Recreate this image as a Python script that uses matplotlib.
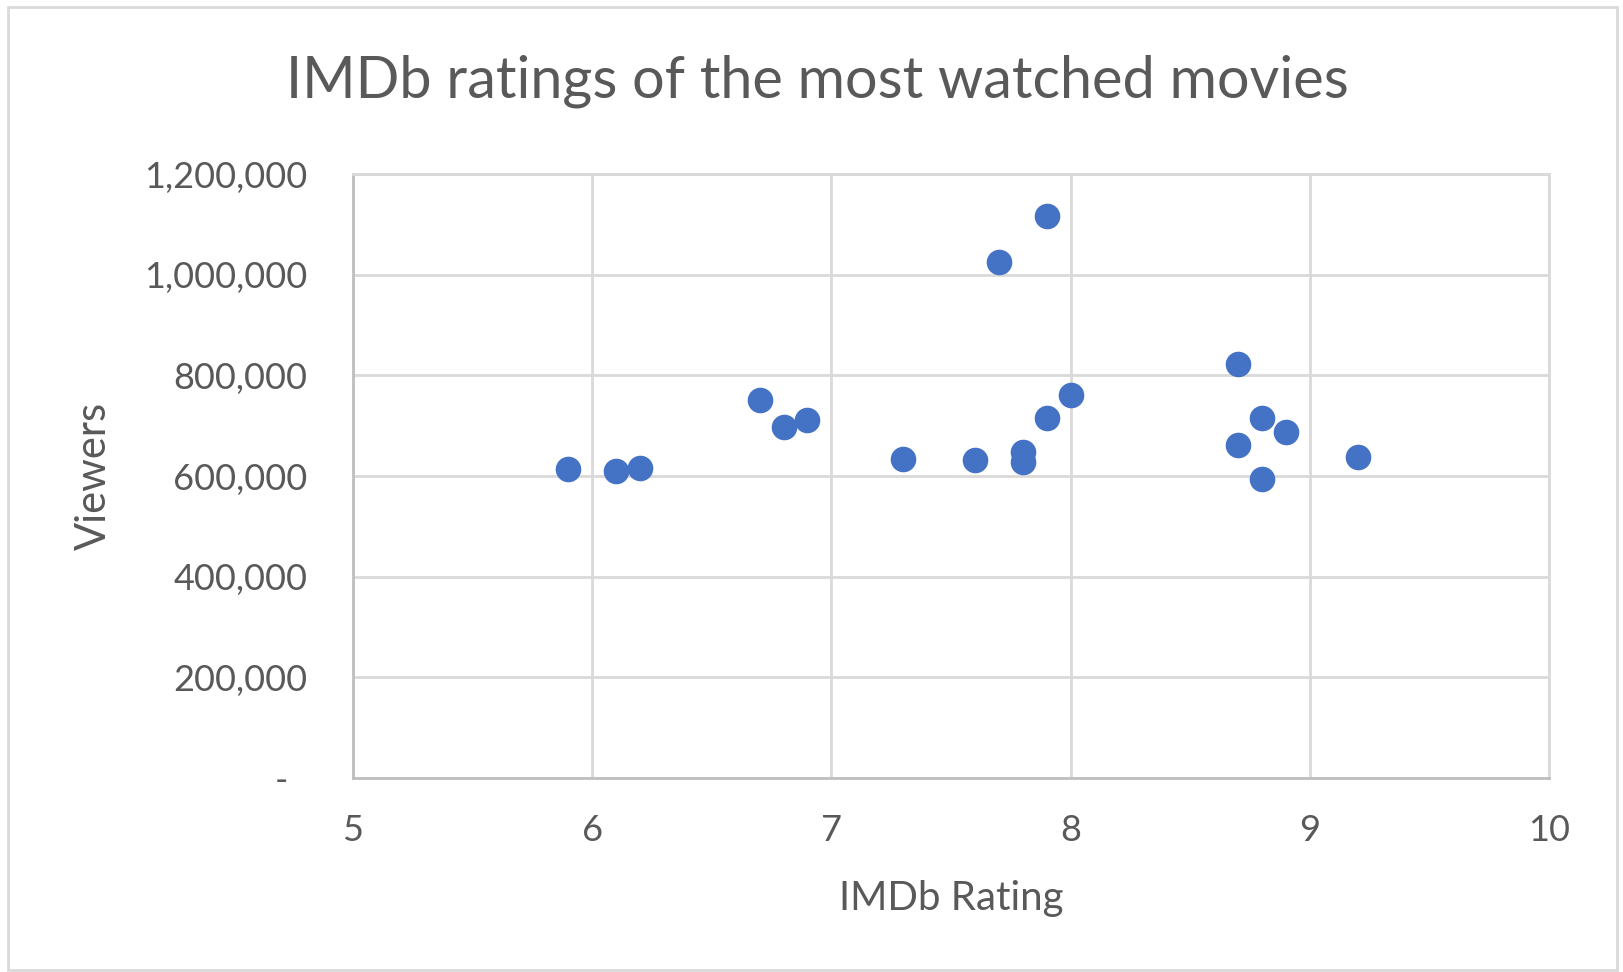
import matplotlib.pyplot as plt
from matplotlib.ticker import FuncFormatter
from matplotlib.patches import Rectangle

# IMDb rating vs viewers
ratings = [5.9, 6.1, 6.2, 6.7, 6.8, 6.9, 7.3, 7.6, 7.7, 7.8, 7.8, 7.9, 7.9, 8.0,
           8.7, 8.7, 8.8, 8.8, 8.9, 9.2]
viewers = [613000, 609000, 615000, 751000, 698000, 712000, 634000, 632000, 1025000,
           648000, 628000, 1116000, 716000, 760000, 823000, 661000, 716000, 595000,
           688000, 638000]

x_ticks = [5, 6, 7, 8, 9, 10]
y_ticks = [0, 200000, 400000, 600000, 800000, 1000000, 1200000]

text_color = "#595959"
grid_color = "#d9d9d9"

plt.rcParams["font.family"] = ["Lato", "DejaVu Sans"]

fig = plt.figure(figsize=(16.23, 9.72), dpi=100)
ax = fig.add_axes([353 / 1623, 1 - 778 / 972, (1549 - 353) / 1623, (778 - 174) / 972])

# outer chart border
fig.patches.append(Rectangle((8 / 1623, 2 / 972), 1 - 14 / 1623, 1 - 9 / 972,
                             transform=fig.transFigure, fill=False,
                             edgecolor="#d9d9d9", linewidth=2))

ax.scatter(ratings, viewers, s=340, color="#4472C4", zorder=3, linewidths=0)

ax.set_xlim(5, 10)
ax.set_ylim(0, 1200000)
ax.set_xticks(x_ticks)
ax.set_yticks(y_ticks)
# accounting style: zero shown as a dash
ax.yaxis.set_major_formatter(FuncFormatter(lambda v, p: "-  " if v == 0 else f"{int(v):,}"))

ax.grid(True, color=grid_color, linewidth=2)
ax.set_axisbelow(True)
for side in ["top", "right"]:
    ax.spines[side].set_color(grid_color)
    ax.spines[side].set_linewidth(2)
for side in ["left", "bottom"]:
    ax.spines[side].set_color("#bfbfbf")
    ax.spines[side].set_linewidth(2)

ax.tick_params(length=0, labelsize=26, labelcolor=text_color)
ax.tick_params(axis="y", pad=33)
ax.tick_params(axis="x", pad=26)

ax.set_xlabel("IMDb Rating", fontsize=29, color=text_color, labelpad=24)
ax.set_ylabel("Viewers", fontsize=30, color=text_color, labelpad=22)
fig.text(817 / 1623, 1 - 81 / 972, "IMDb ratings of the most watched movies",
         fontsize=41.5, color=text_color, ha="center", va="center")

fig.savefig("out.png", dpi=100)
